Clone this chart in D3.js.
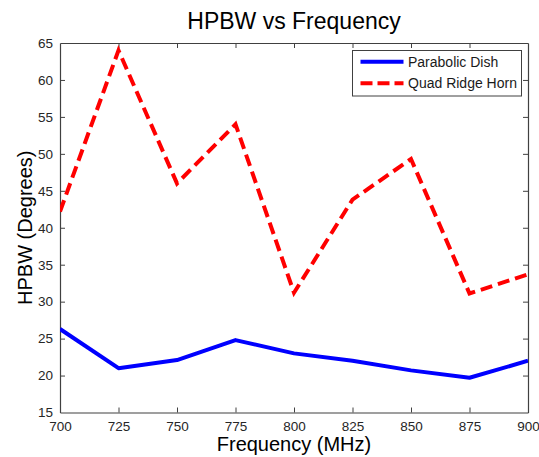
<!DOCTYPE html>
<html>
<head>
<meta charset="utf-8">
<script src="https://cdn.jsdelivr.net/npm/d3@7"></script>
<style>
  body { margin: 0; background: #fff; }
  svg { display: block; font-family: "Liberation Sans", Arial, sans-serif; }
  .tick text { fill: #262626; font-size: 13.5px; }
</style>
</head>
<body>
<div id="chart"></div>
<script>
// Data
const frequency = [700, 725, 750, 775, 800, 825, 850, 875, 900];
const parabolicDish = [26.3, 21.0, 22.1, 24.8, 23.0, 22.0, 20.7, 19.7, 22.0];
const quadRidgeHorn = [42.2, 64.0, 46.0, 54.0, 31.2, 43.8, 49.3, 31.1, 33.7];
const xTicks = [700, 725, 750, 775, 800, 825, 850, 875, 900];
const yTicks = [15, 20, 25, 30, 35, 40, 45, 50, 55, 60, 65];

const width = 539, height = 457;
const margin = { top: 43, right: 11, bottom: 44.5, left: 60 };
const innerW = width - margin.left - margin.right;
const innerH = height - margin.top - margin.bottom;

const svg = d3.select("#chart")
    .append("svg")
    .attr("width", width)
    .attr("height", height);

const x = d3.scaleLinear().domain([700, 900]).range([margin.left, margin.left + innerW]);
const y = d3.scaleLinear().domain([15, 65]).range([margin.top + innerH, margin.top]);

const axisColor = "#404040";

// Axes with inward ticks on all four sides
const bottomAxis = svg.append("g")
    .attr("transform", `translate(0,${margin.top + innerH})`)
    .call(d3.axisBottom(x).tickValues(xTicks).tickSizeInner(-5).tickSizeOuter(0).tickPadding(9));
const topAxis = svg.append("g")
    .attr("transform", `translate(0,${margin.top})`)
    .call(d3.axisTop(x).tickValues(xTicks).tickSizeInner(-5).tickSizeOuter(0).tickFormat(""));
const leftAxis = svg.append("g")
    .attr("transform", `translate(${margin.left},0)`)
    .call(d3.axisLeft(y).tickValues(yTicks).tickSizeInner(-5).tickSizeOuter(0).tickPadding(7));
const rightAxis = svg.append("g")
    .attr("transform", `translate(${margin.left + innerW},0)`)
    .call(d3.axisRight(y).tickValues(yTicks).tickSizeInner(-5).tickSizeOuter(0).tickFormat(""));

[bottomAxis, topAxis, leftAxis, rightAxis].forEach(g => {
    g.select(".domain").attr("stroke", axisColor).attr("stroke-width", 1.2);
    g.selectAll(".tick line").attr("stroke", axisColor);
    g.selectAll(".tick").filter(d => d === 15 || d === 65 || d === 700 || d === 900)
        .select("line").remove();
});
bottomAxis.selectAll(".tick text").attr("dy", "0.71em");

// Lines
const clip = svg.append("clipPath").attr("id", "plot-clip")
    .append("rect")
    .attr("x", margin.left).attr("y", margin.top)
    .attr("width", innerW).attr("height", innerH);

const line = d3.line()
    .x((d, i) => x(frequency[i]))
    .y(d => y(d));

const plot = svg.append("g").attr("clip-path", "url(#plot-clip)");

plot.append("path")
    .datum(parabolicDish)
    .attr("fill", "none")
    .attr("stroke", "#0000ff")
    .attr("stroke-width", 4)
    .attr("stroke-linejoin", "round")
    .attr("d", line);

plot.append("path")
    .datum(quadRidgeHorn)
    .attr("fill", "none")
    .attr("stroke", "#ff0000")
    .attr("stroke-width", 4)
    .attr("stroke-dasharray", "12,6")
    .attr("d", line);

// Title and axis labels
svg.append("text")
    .attr("x", margin.left + innerW / 2)
    .attr("y", 29)
    .attr("text-anchor", "middle")
    .style("font-size", "23px")
    .style("fill", "#000")
    .text("HPBW vs Frequency");

svg.append("text")
    .attr("x", margin.left + innerW / 2)
    .attr("y", 451)
    .attr("text-anchor", "middle")
    .style("font-size", "20px")
    .style("fill", "#000")
    .text("Frequency (MHz)");

svg.append("text")
    .attr("transform", `translate(32,${margin.top + innerH / 2}) rotate(-90)`)
    .attr("text-anchor", "middle")
    .style("font-size", "20px")
    .style("fill", "#000")
    .text("HPBW (Degrees)");

// Legend
const legend = svg.append("g");
legend.append("rect")
    .attr("x", 352.5).attr("y", 50.5)
    .attr("width", 169).attr("height", 45.5)
    .attr("fill", "#fff")
    .attr("stroke", axisColor)
    .attr("stroke-width", 1);

const legendItems = [
    { label: "Parabolic Dish", color: "#0000ff", dash: null, y: 61.7 },
    { label: "Quad Ridge Horn", color: "#ff0000", dash: "12,5", y: 83.3 }
];

legendItems.forEach(item => {
    legend.append("line")
        .attr("x1", 360.5).attr("x2", 403.5)
        .attr("y1", item.y).attr("y2", item.y)
        .attr("stroke", item.color)
        .attr("stroke-width", 4)
        .attr("stroke-dasharray", item.dash);
    legend.append("text")
        .attr("x", 408)
        .attr("y", item.y + 5)
        .style("font-size", "14px")
        .style("fill", "#1a1a1a")
        .text(item.label);
});
</script>
</body>
</html>
